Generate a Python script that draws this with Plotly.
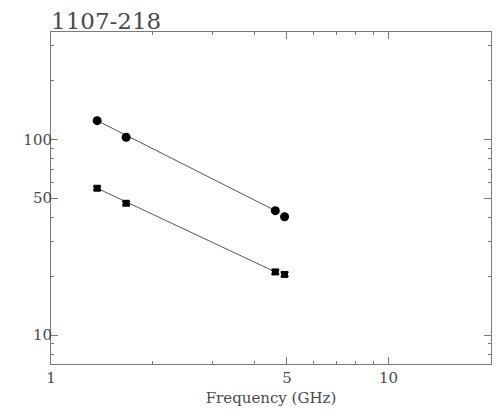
import plotly.graph_objects as go

# Data
freq = [1.37, 1.67, 4.62, 4.92]              # GHz
flux_circle = [124.5, 102.4, 43.2, 40.2]
flux_square = [56.2, 47.1, 21.0, 20.4]
err_square = [1.2, 1.0, 0.5, 0.5]
fit_freq = [1.37, 4.62]
fit_circle = [124.5, 43.2]
fit_square = [56.2, 21.0]

x_ticks = [1, 5, 10]
x_ticklabels = ["1", "5", "10"]
x_minor = [2, 3, 4, 6, 7, 8, 9, 20]
y_ticks = [10, 50, 100]
y_ticklabels = ["10", "50", "100"]
y_minor = [8, 9, 20, 30, 40, 60, 70, 80, 90, 200, 300]

title_text = "1107-218"
x_title = "Frequency (GHz)"

ink = "#4a4a4a"
axis_col = "#7a7a7a"
font_family = "DejaVu Serif"

fig = go.Figure()
fig.add_trace(go.Scatter(x=fit_freq, y=fit_circle, mode="lines",
                         line=dict(color="#555555", width=1), showlegend=False))
fig.add_trace(go.Scatter(x=fit_freq, y=fit_square, mode="lines",
                         line=dict(color="#555555", width=1), showlegend=False))
fig.add_trace(go.Scatter(x=freq, y=flux_circle, mode="markers",
                         marker=dict(symbol="circle", size=9, color="black"),
                         showlegend=False))
fig.add_trace(go.Scatter(x=freq, y=flux_square, mode="markers",
                         marker=dict(symbol="square", size=7, color="black"),
                         error_y=dict(type="data", array=err_square, color="black",
                                      thickness=1.5, width=4),
                         showlegend=False))

axis_common = dict(
    type="log", showgrid=False, zeroline=False, automargin=False,
    showline=True, linecolor=axis_col, linewidth=1, mirror="allticks",
    ticks="inside", ticklen=7, tickcolor=axis_col, tickwidth=1,
    tickfont=dict(family=font_family, size=15, color=ink),
)

fig.update_xaxes(
    **axis_common,
    range=[0, 1.3036],
    tickmode="array", tickvals=x_ticks, ticktext=x_ticklabels,
    minor=dict(tickmode="array", tickvals=x_minor, ticks="inside", ticklen=3,
               tickcolor=axis_col, tickwidth=1, showgrid=False),
    title=dict(text=x_title, font=dict(family=font_family, size=15, color=ink), standoff=6),
)
fig.update_yaxes(
    **axis_common,
    range=[0.852, 2.548],
    tickmode="array", tickvals=y_ticks, ticktext=y_ticklabels,
    ticklabelstandoff=-5,
    minor=dict(tickmode="array", tickvals=y_minor, ticks="inside", ticklen=3,
               tickcolor=axis_col, tickwidth=1, showgrid=False),
)

fig.update_layout(
    width=497, height=410,
    margin=dict(l=51, r=6, t=32, b=46, autoexpand=False),
    paper_bgcolor="white", plot_bgcolor="white",
    title=dict(text=title_text, x=51 / 497, xanchor="left", y=1 - 21 / 410, yanchor="middle",
               font=dict(family=font_family, size=23, color=ink)),
)

fig.write_html("out.html", config={"displayModeBar": False},
               post_script="document.body.style.margin='0';")
